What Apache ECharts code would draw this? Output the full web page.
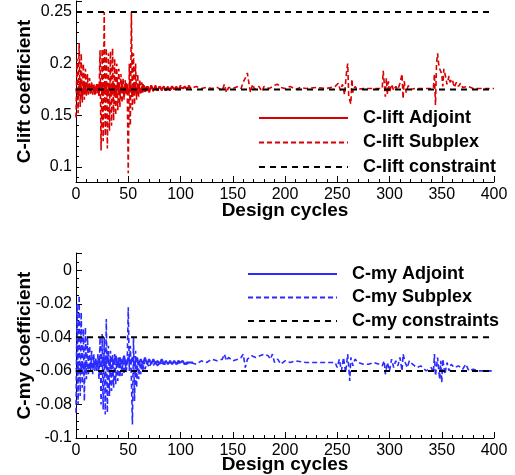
<!DOCTYPE html>
<html>
<head>
<meta charset="utf-8">
<script src="https://cdn.jsdelivr.net/npm/echarts@6/dist/echarts.min.js"></script>
<style>
	html, body { margin: 0; padding: 0; background: #fff; }
	#chart { width: 515px; height: 475px; }
</style>
</head>
<body>
<div id="chart"></div>
<script>
// tick labels / axis ranges
var cycleTicks = [0, 50, 100, 150, 200, 250, 300, 350, 400];
var liftRange = [0.0855, 0.2606];
var myRange = [-0.1, 0.0103];

// constraints
var liftConstraints = [0.25, 0.175];
var myConstraints = [-0.04, -0.06];

// C-lift, adjoint run (solid)
var liftAdjoint = [[0,0.176],[2,0.17],[4,0.183],[6,0.168],[8,0.181],[10,0.171],[12,0.18],[14,0.172],[16,0.179],[18,0.17],
	[20,0.18],[22,0.172],[24,0.182],[26,0.169],[28,0.183],[30,0.168],[32,0.181],[34,0.17],[36,0.18],[38,0.168],
	[40,0.182],[42,0.17],[44,0.18],[46,0.169],[48,0.181],[50,0.171],[52,0.18],[54,0.168],[56,0.182],[58,0.17],
	[60,0.179],[62,0.172],[64,0.18],[66,0.173],[68,0.178],[70,0.173],[72,0.179],[74,0.174],[76,0.178],[78,0.174],
	[80,0.178],[82,0.175],[84,0.178],[86,0.174],[88,0.177],[90,0.175],[92,0.178],[94,0.175],[96,0.177],[98,0.175],
	[100,0.177],[102,0.176],[104,0.177],[106,0.176],[108,0.177],[110,0.176]];

// C-lift, subplex run (dashed)
var liftSubplex = [[0,0.148],[1,0.205],[2,0.152],[3,0.22],[4,0.158],[5,0.21],[6,0.162],[7,0.2],[8,0.165],[9,0.195],
	[10,0.168],[11,0.19],[12,0.17],[13,0.186],[14,0.171],[15,0.183],[16,0.17],[17,0.181],[18,0.172],[19,0.179],
	[20,0.171],[21,0.18],[22,0.168],[23,0.213],[24,0.116],[25,0.214],[26,0.125],[27,0.25],[28,0.13],[29,0.215],
	[30,0.118],[31,0.21],[32,0.135],[33,0.212],[34,0.14],[35,0.215],[36,0.145],[37,0.205],[38,0.15],[39,0.2],
	[40,0.155],[41,0.195],[42,0.158],[43,0.19],[44,0.162],[45,0.186],[46,0.165],[47,0.184],[48,0.17],[49,0.18],
	[50,0.094],[51,0.2],[52,0.14],[53,0.25],[54,0.155],[55,0.21],[56,0.16],[57,0.2],[58,0.165],[59,0.19],
	[60,0.168],[61,0.185],[62,0.17],[63,0.182],[64,0.171],[65,0.18],[66,0.172],[67,0.179],[68,0.173],[69,0.178],
	[70,0.172],[72,0.178],[74,0.173],[76,0.179],[78,0.174],[80,0.178],[82,0.174],[84,0.177],[86,0.175],[88,0.178],
	[90,0.174],[92,0.177],[94,0.175],[96,0.178],[98,0.175],[100,0.179],[102,0.176],[104,0.178],[106,0.176],[108,0.179],
	[110,0.176],[115,0.178],[120,0.176],[125,0.177],[130,0.176],[135,0.177],[140,0.174],[142,0.18],[144,0.172],[146,0.177],
	[150,0.176],[155,0.178],[158,0.176],[160,0.182],[162,0.186],[164,0.191],[165,0.184],[167,0.172],[169,0.18],[171,0.175],
	[175,0.178],[178,0.173],[180,0.178],[185,0.176],[190,0.179],[193,0.18],[196,0.177],[200,0.176],[205,0.178],[210,0.175],
	[215,0.177],[220,0.176],[230,0.177],[240,0.176],[248,0.178],[251,0.181],[253,0.174],[255,0.18],[257,0.17],[259,0.193],
	[260,0.2],[261,0.168],[263,0.161],[264,0.185],[265,0.172],[267,0.178],[269,0.175],[275,0.176],[285,0.176],[293,0.176],
	[294,0.193],[296,0.168],[297,0.186],[298,0.17],[299,0.183],[300,0.172],[302,0.18],[304,0.174],[306,0.178],[308,0.175],
	[310,0.181],[312,0.19],[313,0.166],[314,0.183],[316,0.172],[318,0.179],[320,0.175],[325,0.176],[335,0.176],[342,0.176],
	[343,0.19],[344,0.16],[345,0.2],[346,0.21],[347,0.2],[348,0.195],[350,0.19],[351,0.178],[352,0.195],[354,0.186],
	[355,0.18],[357,0.188],[358,0.182],[360,0.185],[362,0.177],[364,0.182],[366,0.178],[368,0.181],[370,0.177],[375,0.178],
	[380,0.176],[390,0.176],[400,0.176]];

// C-my, adjoint run (solid)
var myAdjoint = [[0,-0.059],[2,-0.058],[4,-0.06],[6,-0.057],[8,-0.059],[10,-0.056],[12,-0.059],[14,-0.055],[16,-0.058],[18,-0.054],
	[20,-0.058],[22,-0.053],[24,-0.057],[26,-0.052],[28,-0.057],[30,-0.051],[32,-0.057],[34,-0.052],[36,-0.056],[38,-0.051],
	[40,-0.057],[42,-0.052],[44,-0.056],[46,-0.051],[48,-0.057],[50,-0.052],[52,-0.056],[54,-0.052],[56,-0.057],[58,-0.052],
	[60,-0.056],[62,-0.053],[64,-0.056],[66,-0.052],[68,-0.056],[70,-0.053],[72,-0.056],[74,-0.053],[76,-0.056],[78,-0.054],
	[80,-0.056],[82,-0.053],[84,-0.056],[86,-0.054],[88,-0.056],[90,-0.054],[92,-0.056],[94,-0.054],[96,-0.056],[98,-0.054],
	[100,-0.055],[102,-0.054],[104,-0.056],[106,-0.055],[108,-0.055],[110,-0.055],[112,-0.055]];

// C-my, subplex run (dashed)
var mySubplex = [[0,-0.085],[1,-0.02],[2,-0.08],[3,-0.015],[4,-0.075],[5,-0.025],[6,-0.07],[7,-0.035],[8,-0.078],[9,-0.034],
	[10,-0.065],[11,-0.04],[12,-0.062],[13,-0.045],[14,-0.06],[15,-0.048],[16,-0.062],[17,-0.05],[18,-0.06],[19,-0.052],
	[20,-0.06],[21,-0.05],[22,-0.065],[23,-0.04],[24,-0.08],[25,-0.038],[26,-0.083],[27,-0.04],[28,-0.086],[29,-0.029],
	[30,-0.085],[31,-0.045],[32,-0.075],[33,-0.048],[34,-0.072],[35,-0.05],[36,-0.07],[37,-0.05],[38,-0.068],[39,-0.052],
	[40,-0.066],[41,-0.052],[42,-0.064],[43,-0.053],[44,-0.063],[45,-0.054],[46,-0.062],[47,-0.054],[48,-0.061],[49,-0.055],
	[50,-0.022],[51,-0.06],[52,-0.045],[53,-0.065],[54,-0.092],[55,-0.04],[56,-0.078],[57,-0.048],[58,-0.07],[59,-0.052],
	[60,-0.065],[61,-0.054],[62,-0.062],[63,-0.055],[64,-0.06],[65,-0.054],[66,-0.059],[68,-0.055],[70,-0.058],[72,-0.055],
	[74,-0.057],[76,-0.054],[78,-0.057],[80,-0.055],[85,-0.056],[90,-0.055],[95,-0.056],[100,-0.055],[105,-0.056],[110,-0.055],
	[115,-0.056],[120,-0.054],[125,-0.055],[130,-0.053],[135,-0.054],[140,-0.053],[142,-0.05],[144,-0.054],[146,-0.052],[150,-0.054],
	[155,-0.053],[158,-0.052],[160,-0.05],[162,-0.058],[164,-0.053],[168,-0.051],[172,-0.052],[176,-0.051],[180,-0.05],[184,-0.051],
	[186,-0.053],[188,-0.05],[190,-0.055],[193,-0.053],[196,-0.056],[200,-0.054],[205,-0.055],[210,-0.054],[220,-0.055],[230,-0.055],
	[240,-0.055],[248,-0.055],[250,-0.058],[252,-0.053],[254,-0.06],[256,-0.052],[258,-0.061],[260,-0.05],[262,-0.066],[263,-0.052],
	[265,-0.057],[267,-0.053],[270,-0.055],[275,-0.056],[280,-0.056],[285,-0.055],[290,-0.056],[293,-0.057],[295,-0.054],[296,-0.062],
	[298,-0.055],[300,-0.06],[302,-0.053],[304,-0.058],[306,-0.054],[308,-0.057],[310,-0.052],[312,-0.06],[313,-0.05],[315,-0.055],
	[317,-0.058],[319,-0.054],[322,-0.056],[326,-0.058],[330,-0.057],[335,-0.06],[340,-0.058],[342,-0.061],[343,-0.05],[344,-0.063],
	[346,-0.052],[348,-0.065],[349,-0.054],[350,-0.067],[351,-0.053],[353,-0.062],[355,-0.055],[357,-0.06],[359,-0.056],[362,-0.058],
	[366,-0.057],[370,-0.059],[373,-0.056],[376,-0.06],[380,-0.059],[385,-0.06],[390,-0.06],[395,-0.06],[400,-0.06]];

var FONT = "'Liberation Sans', Arial, sans-serif";
var RED = '#d80000';
var BLUE = '#2b2bff';

function xAxisFor(gridIndex, gap) {
	return {
		type: 'value',
		gridIndex: gridIndex,
		min: cycleTicks[0],
		max: cycleTicks[cycleTicks.length - 1],
		interval: 50,
		name: 'Design cycles',
		nameLocation: 'middle',
		nameGap: gap,
		nameMoveOverlap: false,
		nameTextStyle: { color: '#000', fontFamily: FONT, fontSize: 19, fontWeight: 'bold' },
		axisLine: { show: true, onZero: false, lineStyle: { color: '#000', width: 1 } },
		axisTick: { show: true, inside: true, length: 6, lineStyle: { color: '#000' } },
		minorTick: { show: true, splitNumber: 5, length: 3, lineStyle: { color: '#000' } },
		axisLabel: { color: '#000', fontFamily: FONT, fontSize: 16, margin: 5 },
		splitLine: { show: false }
	};
}

function yAxisFor(gridIndex, name) {
	return {
		type: 'value',
		gridIndex: gridIndex,
		name: name,
		nameLocation: 'middle',
		nameGap: 42,
		nameMoveOverlap: false,
		nameTextStyle: { color: '#000', fontFamily: FONT, fontSize: 19, fontWeight: 'bold' },
		axisLine: { show: true, onZero: false, lineStyle: { color: '#000', width: 1 } },
		axisTick: { show: true, inside: true, length: 6, lineStyle: { color: '#000' } },
		axisLabel: { color: '#000', fontFamily: FONT, fontSize: 16, margin: 4 },
		splitLine: { show: false }
	};
}

function legendFor(left, top, gap, names) {
	return {
		orient: 'vertical',
		left: left,
		top: top,
		padding: 0,
		itemWidth: 89,
		itemHeight: 18,
		itemGap: gap,
		itemStyle: { opacity: 0 },
		textStyle: { color: '#000', fontFamily: FONT, fontSize: 18, fontWeight: 'bold', lineHeight: 18, padding: [0, 0, 0, 10] },
		data: names
	};
}

function constraintSeries(name, value, xi) {
	return {
		name: name,
		type: 'line',
		xAxisIndex: xi,
		yAxisIndex: xi,
		symbol: 'none',
		z: 5,
		lineStyle: { color: '#000', width: 2, type: [6, 5] },
		itemStyle: { color: '#000' },
		data: [[cycleTicks[0], value], [cycleTicks[cycleTicks.length - 1], value]]
	};
}

var myChart = echarts.init(document.getElementById('chart'), null, { renderer: 'canvas' });

var liftY = yAxisFor(0, 'C-lift coefficient');
liftY.min = liftRange[0];
liftY.max = liftRange[1];
liftY.splitNumber = 3;
liftY.minorTick = { show: true, splitNumber: 5, length: 3, lineStyle: { color: '#000' } };
liftY.axisLabel.showMinLabel = false;
liftY.axisLabel.showMaxLabel = false;

var myY = yAxisFor(1, 'C-my coefficient');
myY.min = myRange[0];
myY.max = myRange[1];
myY.interval = 0.02;
myY.minorTick = { show: true, splitNumber: 4, length: 3, lineStyle: { color: '#000' } };
myY.axisLabel.showMaxLabel = false;

var option = {
	animation: false,
	backgroundColor: '#fff',
	grid: [
		{ left: 76, width: 418, top: 1, height: 181 },
		{ left: 76, width: 418, top: 253, height: 186 }
	],
	legend: [
		legendFor(258, 109, 6.5, ['C-lift Adjoint', 'C-lift Subplex', 'C-lift constraint']),
		legendFor(247, 265, 5.5, ['C-my Adjoint', 'C-my Subplex', 'C-my constraints'])
	],
	xAxis: [xAxisFor(0, 19), xAxisFor(1, 17)],
	yAxis: [liftY, myY],
	series: [
		{
			name: 'C-lift Adjoint', type: 'line', xAxisIndex: 0, yAxisIndex: 0, symbol: 'none',
			lineStyle: { color: RED, width: 2 }, itemStyle: { color: RED },
			data: liftAdjoint
		},
		{
			name: 'C-lift Subplex', type: 'line', xAxisIndex: 0, yAxisIndex: 0, symbol: 'none',
			lineStyle: { color: RED, width: 1.6, type: [5, 3] }, itemStyle: { color: RED },
			data: liftSubplex
		},
		constraintSeries('C-lift constraint', liftConstraints[0], 0),
		constraintSeries('C-lift constraint', liftConstraints[1], 0),
		{
			name: 'C-my Adjoint', type: 'line', xAxisIndex: 1, yAxisIndex: 1, symbol: 'none',
			lineStyle: { color: BLUE, width: 2 }, itemStyle: { color: BLUE },
			data: myAdjoint
		},
		{
			name: 'C-my Subplex', type: 'line', xAxisIndex: 1, yAxisIndex: 1, symbol: 'none',
			lineStyle: { color: BLUE, width: 1.6, type: [5, 3] }, itemStyle: { color: BLUE },
			data: mySubplex
		},
		constraintSeries('C-my constraints', myConstraints[0], 1),
		constraintSeries('C-my constraints', myConstraints[1], 1)
	]
};

myChart.setOption(option);
window.addEventListener('resize', function() {
	myChart.resize();
});
</script>
</body>
</html>
